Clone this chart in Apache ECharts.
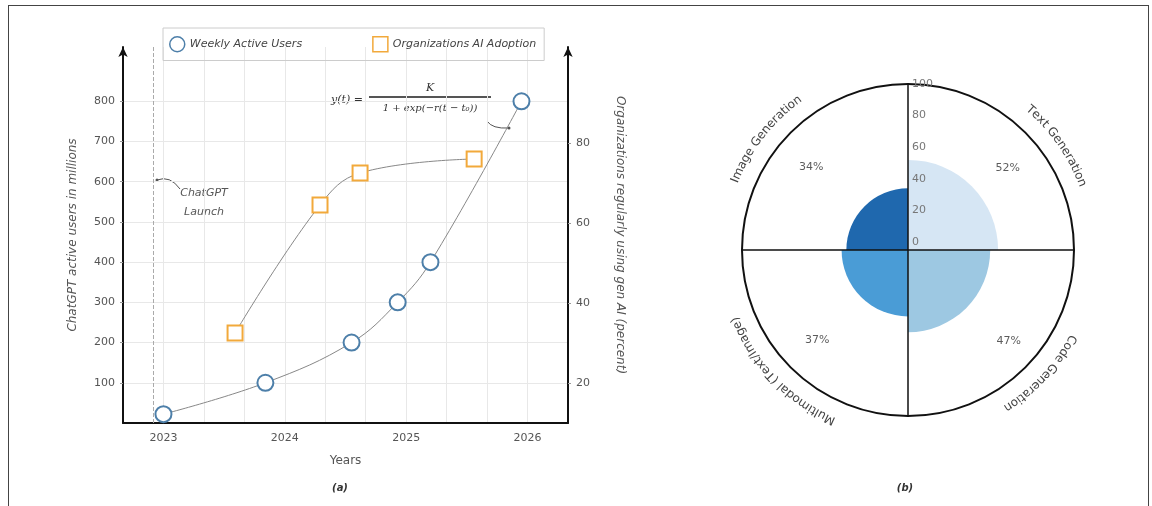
<!DOCTYPE html>
<html lang="en">
<head>
<meta charset="UTF-8">
<title>ChatGPT growth and gen AI use cases</title>
<script src="https://cdn.jsdelivr.net/npm/echarts@6/dist/echarts.min.js"></script>
<style>
  html, body { margin: 0; padding: 0; background: #fff; overflow: hidden; }
  #chart { width: 1152px; height: 506px; }
  #frame {
    position: absolute; left: 8px; top: 5px; width: 1139px; height: 520px;
    border: 1px solid #444; border-bottom: none; pointer-events: none;
  }
</style>
</head>
<body>
<div id="chart"></div>
<div id="frame"></div>
<script>
  // (a) ChatGPT weekly active users (millions)
  const wauYears = [2023.0, 2023.84, 2024.55, 2024.93, 2025.2, 2025.95];
  const wauValues = [22, 100, 200, 300, 400, 800];
  // (a) organizations regularly using gen AI (percent)
  const adoptYears = [2023.59, 2024.29, 2024.62, 2025.56];
  const adoptValues = [32.5, 64.5, 72.5, 76];
  const launchYear = 2022.92;

  const yearTicks = [2023, 2024, 2025, 2026];
  const userTicks = [100, 200, 300, 400, 500, 600, 700, 800];
  const adoptTicks = [20, 40, 60, 80];

  // (b) gen AI use cases
  const useCases = ['Text Generation', 'Code Generation', 'Multimodal (Text/Image)', 'Image Generation'];
  const useShares = [52, 47, 37, 34];
  const radialTicks = [0, 20, 40, 60, 80, 100];

  const blues = ['#d6e6f4', '#9dc8e2', '#4a9cd6', '#1f68ae'];
  const blueRing = '#4d7fa9';
  const orange = '#f2a93b';
  const labelFont = '"DejaVu Sans", sans-serif';

  const cx = 908, cy = 250, R = 166;

  // curved category labels round the polar plot, one text per character
  const measureCtx = document.createElement('canvas').getContext('2d');
  function arcLabel(text, centerDeg, r) {
    const font = '12px ' + labelFont;
    measureCtx.font = font;
    const chars = [...text];
    const widths = chars.map(ch => measureCtx.measureText(ch).width);
    const total = widths.reduce((a, b) => a + b, 0);
    let a = centerDeg * Math.PI / 180 - total / r / 2;
    return chars.map((ch, i) => {
      const mid = a + widths[i] / 2 / r;
      a += widths[i] / r;
      return {
        type: 'text', silent: true,
        x: cx + r * Math.sin(mid), y: cy - r * Math.cos(mid), rotation: -mid,
        style: { text: ch, font: font, fill: '#444', align: 'center', verticalAlign: 'middle' }
      };
    });
  }
  const arcAngles = [55, 133, 226, -52];
  const arcTexts = useCases.flatMap((name, i) => arcLabel(name, arcAngles[i], 186));
  const pctOffsets = [[8, 10], [9, -1], [1, -2], [-5, 9]];

  const serif = '"DejaVu Serif", serif';
  const annotations = [
    // ChatGPT launch note
    { type: 'circle', silent: true, shape: { cx: 157, cy: 180, r: 1.5 }, style: { fill: '#555' } },
    { type: 'bezierCurve', silent: true, shape: { x1: 157, y1: 180, x2: 180, y2: 189, cpx1: 170, cpy1: 175 },
      style: { stroke: '#555', lineWidth: 1, fill: null } },
    { type: 'text', silent: true, x: 204, y: 184,
      style: { text: 'ChatGPT\nLaunch', font: 'italic 11px ' + labelFont, fill: '#555', align: 'center', verticalAlign: 'top', lineHeight: 19 } },
    // logistic formula
    { type: 'text', silent: true, x: 363, y: 100,
      style: { text: 'y(t) =', font: 'italic 11px ' + serif, fill: '#333', align: 'right', verticalAlign: 'middle' } },
    { type: 'line', silent: true, shape: { x1: 369, y1: 97, x2: 491, y2: 97 }, style: { stroke: '#555', lineWidth: 2 } },
    { type: 'text', silent: true, x: 430, y: 88,
      style: { text: 'K', font: 'italic 11px ' + serif, fill: '#333', align: 'center', verticalAlign: 'middle' } },
    { type: 'text', silent: true, x: 430, y: 108,
      style: { text: '1 + exp(\u2212r(t \u2212 t\u2080))', font: 'italic 10px ' + serif, fill: '#333', align: 'center', verticalAlign: 'middle' } },
    { type: 'bezierCurve', silent: true, shape: { x1: 487, y1: 121, x2: 509, y2: 128, cpx1: 492, cpy1: 129 },
      style: { stroke: '#555', lineWidth: 1, fill: null } },
    { type: 'circle', silent: true, shape: { cx: 509, cy: 128, r: 1.5 }, style: { fill: '#555' } },
    // captions
    { type: 'text', silent: true, x: 340, y: 488,
      style: { text: '(a)', font: 'italic bold 10px ' + labelFont, fill: '#333', align: 'center', verticalAlign: 'middle' } },
    { type: 'text', silent: true, x: 905, y: 488,
      style: { text: '(b)', font: 'italic bold 10px ' + labelFont, fill: '#333', align: 'center', verticalAlign: 'middle' } }
  ];

  const chart = echarts.init(document.getElementById('chart'));

  chart.setOption({
    backgroundColor: '#fff',
    textStyle: { fontFamily: labelFont },
    animation: false,
    legend: {
      left: 163, top: 28,
      padding: [8, 8, 8, 6],
      itemGap: 70, itemWidth: 15, itemHeight: 15,
      borderColor: '#ccc', borderWidth: 1,
      textStyle: { fontStyle: 'italic', color: '#444', fontSize: 11 },
      data: [
        { name: 'Weekly Active Users', icon: 'circle', itemStyle: { color: '#fff', borderColor: blueRing, borderWidth: 1.5 } },
        { name: 'Organizations AI Adoption', icon: 'rect', itemStyle: { color: '#fff', borderColor: orange, borderWidth: 1.5 } }
      ]
    },
    grid: { left: 123, right: 584, top: 47, bottom: 83 },
    xAxis: {
      type: 'value',
      min: 2022 + 2 / 3, max: 2026 + 1 / 3, interval: 1 / 3,
      name: 'Years', nameLocation: 'middle', nameGap: 32,
      nameTextStyle: { color: '#555', fontSize: 12 },
      axisLine: { onZero: false, lineStyle: { color: '#111', width: 2 } },
      axisTick: { show: false },
      axisLabel: { customValues: yearTicks, color: '#555', fontSize: 11, margin: 10, formatter: v => String(Math.round(v)) },
      splitLine: { show: true, lineStyle: { color: '#e8e8e8', width: 1 } }
    },
    yAxis: [
      {
        type: 'value', position: 'left',
        min: 0, max: 935, interval: 100,
        name: 'ChatGPT active users in millions', nameLocation: 'middle', nameGap: 44,
        nameTextStyle: { fontStyle: 'italic', color: '#555', fontSize: 12 },
        axisLine: { show: true, onZero: false, symbol: ['none', 'arrow'], symbolSize: [7, 10], lineStyle: { color: '#111', width: 2 } },
        axisTick: { show: true, customValues: userTicks, length: 3, lineStyle: { color: '#999' } },
        axisLabel: { customValues: userTicks, color: '#555', fontSize: 11 },
        splitLine: { show: true, lineStyle: { color: '#e8e8e8' } }
      },
      {
        type: 'value', position: 'right',
        min: 10, max: 104,
        name: 'Organizations regularly using gen AI (percent)', nameLocation: 'middle', nameGap: 46, nameRotate: -90,
        nameTextStyle: { fontStyle: 'italic', color: '#555', fontSize: 12 },
        axisLine: { show: true, onZero: false, symbol: ['none', 'arrow'], symbolSize: [7, 10], lineStyle: { color: '#111', width: 2 } },
        axisTick: { show: true, customValues: adoptTicks, length: 3, lineStyle: { color: '#999' } },
        axisLabel: { customValues: adoptTicks, color: '#555', fontSize: 11 },
        splitLine: { show: false }
      }
    ],
    polar: { center: [cx, cy], radius: R },
    angleAxis: {
      type: 'category', data: useCases, startAngle: 90, clockwise: true, z: 5,
      axisLine: { lineStyle: { color: '#111', width: 2 } },
      axisTick: { show: false },
      axisLabel: { show: false },
      splitLine: { show: true, lineStyle: { color: '#111', width: 1.5 } }
    },
    radiusAxis: {
      min: -5, max: 100, z: 5,
      axisLine: { show: false },
      axisTick: { show: false },
      splitLine: { show: false },
      axisLabel: { customValues: radialTicks, color: '#777', fontSize: 11, align: 'left', margin: -4 }
    },
    series: [
      {
        name: 'Weekly Active Users', type: 'line',
        xAxisIndex: 0, yAxisIndex: 0,
        data: wauYears.map((x, i) => [x, wauValues[i]]),
        smooth: 0.4,
        symbol: 'emptyCircle', symbolSize: 16,
        itemStyle: { color: blueRing, borderWidth: 1.5 },
        lineStyle: { color: '#888', width: 1 },
        z: 3,
        markLine: {
          silent: true, symbol: 'none',
          label: { show: false },
          lineStyle: { type: 'dashed', color: '#aaa', width: 1 },
          data: [{ xAxis: launchYear }]
        }
      },
      {
        name: 'Organizations AI Adoption', type: 'line',
        xAxisIndex: 0, yAxisIndex: 1,
        data: adoptYears.map((x, i) => [x, adoptValues[i]]),
        smooth: 0.4,
        symbol: 'emptyRect', symbolSize: 15,
        itemStyle: { color: orange, borderWidth: 1.5 },
        lineStyle: { color: '#888', width: 1 },
        z: 3
      },
      {
        // wedges drawn from the centre out to each share on the radius axis
        type: 'custom', coordinateSystem: 'polar',
        data: useShares.map((v, i) => [v, i]),
        renderItem: function (params, api) {
          const cs = params.coordSys;
          const p = api.coord([api.value(0), api.value(1)]);
          const r = Math.hypot(p[0] - cs.cx, p[1] - cs.cy);
          const mid = Math.atan2(p[1] - cs.cy, p[0] - cs.cx);
          const half = Math.PI / useCases.length;
          return {
            type: 'sector',
            shape: { cx: cs.cx, cy: cs.cy, r0: 0, r: r, startAngle: mid - half, endAngle: mid + half, clockwise: true },
            style: { fill: blues[params.dataIndex] }
          };
        },
        z: 2
      },
      {
        type: 'scatter', coordinateSystem: 'polar',
        symbolSize: 0,
        data: useCases.map((name, i) => ({ value: [77, name], label: { offset: pctOffsets[i] } })),
        label: {
          show: true, position: 'inside', color: '#333', fontSize: 11,
          formatter: p => useShares[p.dataIndex] + '%'
        }
      }
    ],
    graphic: annotations.concat(arcTexts)
  });
</script>
</body>
</html>
